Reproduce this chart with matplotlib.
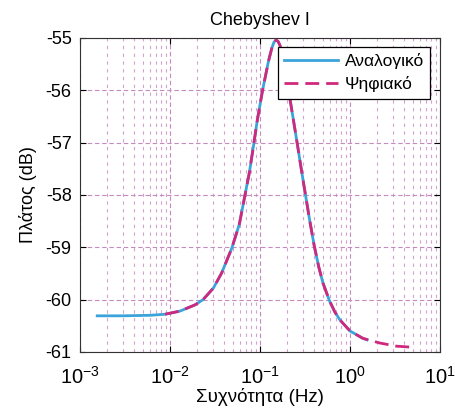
import matplotlib
matplotlib.use("Agg")
import matplotlib.pyplot as plt
from matplotlib.ticker import LogLocator, NullFormatter, FixedFormatter

plt.rcParams["font.family"] = ["Liberation Sans", "DejaVu Sans"]
plt.rcParams["axes.unicode_minus"] = False
plt.rcParams["mathtext.fontset"] = "custom"
plt.rcParams["mathtext.rm"] = "Liberation Sans"
plt.rcParams["mathtext.it"] = "Liberation Sans"

# Αναλογικό (analog) response
freq_analog = [0.00155, 0.003, 0.006, 0.0088, 0.0129, 0.019, 0.0233, 0.0303,
               0.0375, 0.0485, 0.0589, 0.0681, 0.076, 0.0843, 0.0933, 0.107,
               0.124, 0.135, 0.143, 0.151, 0.159, 0.167, 0.182, 0.206, 0.234,
               0.262, 0.29, 0.32, 0.355, 0.40, 0.45, 0.50, 0.59, 0.68, 0.774,
               1.0, 1.39, 1.55]
db_analog = [-60.31, -60.31, -60.30, -60.28, -60.22, -60.10, -60.00, -59.78,
             -59.49, -59.02, -58.56, -58.00, -57.58, -57.08, -56.57, -55.99,
             -55.45, -55.20, -55.08, -55.04, -55.07, -55.15, -55.42, -55.97,
             -56.55, -57.07, -57.55, -58.00, -58.47, -58.97, -59.38, -59.68,
             -60.02, -60.24, -60.39, -60.60, -60.74, -60.77]

# Ψηφιακό (digital) response
freq_digital = [0.0088, 0.0129, 0.019, 0.0233, 0.0303, 0.0375, 0.0485, 0.0589,
                0.0681, 0.076, 0.0843, 0.0933, 0.107, 0.124, 0.135, 0.143,
                0.151, 0.159, 0.167, 0.182, 0.206, 0.234, 0.262, 0.29, 0.32,
                0.355, 0.40, 0.45, 0.50, 0.59, 0.68, 0.774, 1.0, 1.39, 2.15,
                3.3, 4.9]
db_digital = [-60.28, -60.22, -60.10, -60.00, -59.78, -59.49, -59.02, -58.56,
              -58.00, -57.58, -57.08, -56.57, -55.99, -55.45, -55.20, -55.08,
              -55.04, -55.07, -55.15, -55.42, -55.97, -56.55, -57.07, -57.55,
              -58.00, -58.47, -58.97, -59.38, -59.68, -60.02, -60.24, -60.39,
              -60.60, -60.74, -60.83, -60.89, -60.91]

xticks = [1e-3, 1e-2, 1e-1, 1e0, 1e1]
xtick_labels = ["$10^{-3}$", "$10^{-2}$", "$10^{-1}$", "$10^{0}$", "$10^{1}$"]
yticks = [-61, -60, -59, -58, -57, -56, -55]

fig = plt.figure(figsize=(4.55, 4.16), dpi=100)
ax = fig.add_axes([0.176, 0.154, 0.791, 0.755])

ax.semilogx(freq_analog, db_analog, color="#3ba3d9", lw=2.0, label="Αναλογικό")
ax.semilogx(freq_digital, db_digital, color="#d0287d", lw=2.0,
            dashes=(5, 2.5), label="Ψηφιακό")

ax.set_xlim(1e-3, 1e1)
ax.set_ylim(-61, -55)
ax.set_yticks(yticks)
ax.set_yticklabels([str(v) for v in yticks])
ax.set_xticks(xticks)
ax.xaxis.set_major_formatter(FixedFormatter(xtick_labels))
ax.xaxis.set_minor_locator(LogLocator(base=10, subs=range(2, 10), numticks=10))
ax.xaxis.set_minor_formatter(NullFormatter())

# grid: dashed majors, short-dashed minors
ax.grid(True, which="major", color="#c68bbd", ls=(0, (4, 2.5)), lw=0.8)
ax.grid(True, which="minor", axis="x", color="#d4a3cd", ls=(0, (3, 4)), lw=0.8)

ax.tick_params(which="major", direction="in", length=4, top=True, right=True)
ax.tick_params(axis="y", labelsize=13, pad=6)
ax.tick_params(axis="x", labelsize=14.5, pad=10)
ax.tick_params(which="minor", length=0)
for s in ax.spines.values():
    s.set_color("#333333")

ax.set_title("Chebyshev I", fontsize=13, pad=9)
ax.set_xlabel("Συχνότητα (Hz)", fontsize=13.5, labelpad=0)
ax.set_ylabel("Πλάτος (dB)", fontsize=13, labelpad=6)

leg = ax.legend(loc="upper right", fontsize=12.5, fancybox=False,
                framealpha=1, edgecolor="black", handlelength=3.1,
                borderpad=0.35, borderaxespad=0.55, handletextpad=0.4,
                labelspacing=0.4)
leg.get_frame().set_linewidth(0.9)

fig.savefig("out.png", dpi=100)
